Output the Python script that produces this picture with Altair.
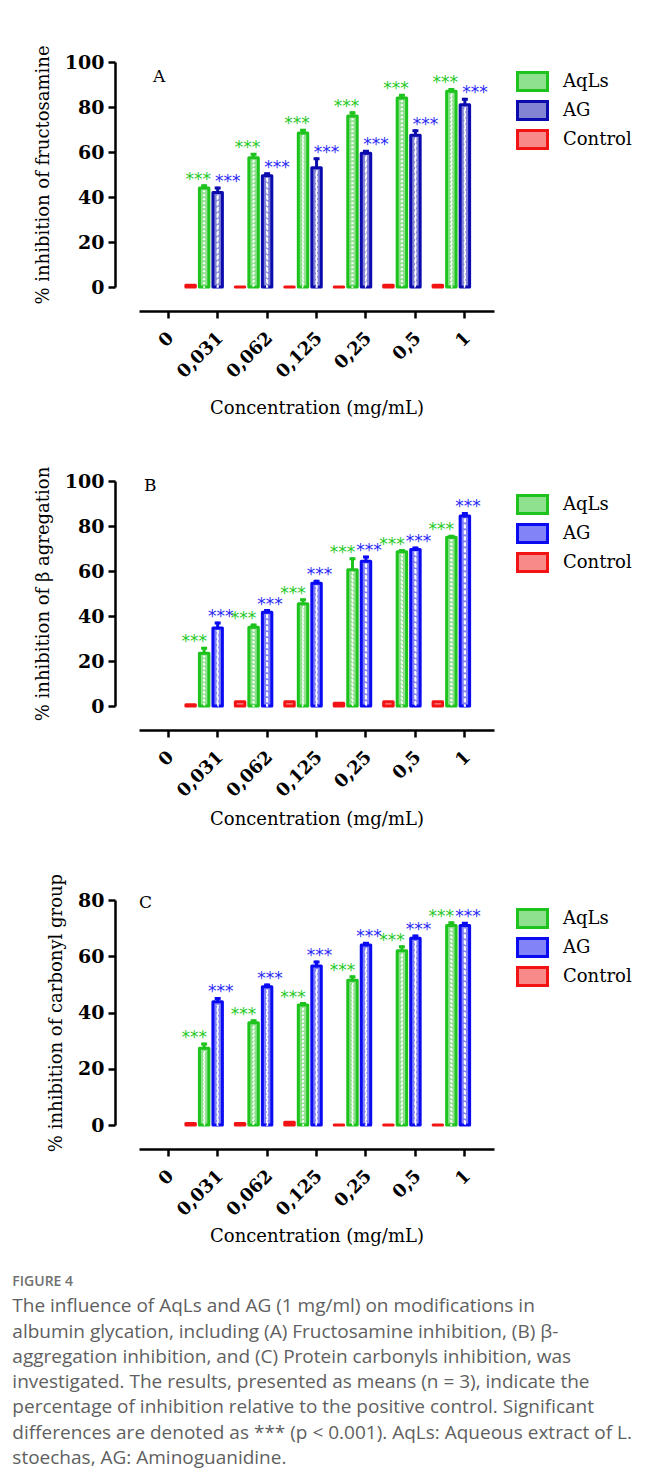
import altair as alt
import pandas as pd

conc_labels = ["0", "0,031", "0,062", "0,125", "0,25", "0,5", "1"]
bar_conc = ["0,031", "0,062", "0,125", "0,25", "0,5", "1"]
offset_order = ["Control", "AqLs", "AG"]
legend_order = ["AqLs", "AG", "Control"]

# Panel A - fructosamine
a_aqls = [44, 57.5, 68.5, 76, 84, 87]
a_aqls_err = [1, 1.5, 1.2, 1.5, 1.2, 0.8]
a_ag = [42, 49.5, 53, 59.5, 67.5, 81]
a_ag_err = [2, 0.8, 4, 0.8, 2, 2.5]
a_ctrl = [0.8, 0, 0, 0, 0.8, 0.8]

# Panel B - beta aggregation
b_aqls = [23.4, 35, 45.4, 60.6, 68.6, 75]
b_aqls_err = [2.3, 1, 1.8, 4.9, 0.5, 0.5]
b_ag = [34.7, 41.7, 54.6, 64.3, 69.6, 84.4]
b_ag_err = [2.2, 0.7, 0.9, 1.9, 0.6, 1.2]
b_ctrl = [0.6, 1.9, 1.9, 1.2, 1.9, 1.9]

# Panel C - carbonyl group
c_aqls = [27.3, 36.4, 42.7, 51.5, 62, 70.9]
c_aqls_err = [1.5, 0.7, 0.5, 1.2, 1.4, 1]
c_ag = [43.8, 49.2, 56.5, 64, 66.4, 70.9]
c_ag_err = [1.2, 0.6, 1.5, 0.6, 0.8, 0.8]
c_ctrl = [0.5, 0.5, 1, 0, 0, 0]

caption_lines = [
    "The influence of AqLs and AG (1 mg/ml) on modifications in",
    "albumin glycation, including (A) Fructosamine inhibition, (B) \u03b2-",
    "aggregation inhibition, and (C) Protein carbonyls inhibition, was",
    "investigated. The results, presented as means (n = 3), indicate the",
    "percentage of inhibition relative to the positive control. Significant",
    "differences are denoted as *** (p < 0.001). AqLs: Aqueous extract of L.",
    "stoechas, AG: Aminoguanidine.",
]

GREEN = "#1ec31e"
RED = "#f21414"
BLUE_A = "#0c0cae"
BLUE_BC = "#0b0bf2"
GREEN_TINT = "#8fe08f"
RED_TINT = "#f88a8a"
BLUE_A_TINT = "#8484d4"
BLUE_BC_TINT = "#8383f8"
STAR_GREEN = "#27c927"
STAR_BLUE = "#2b2bf5"
SERIF = "DejaVu Serif"


def long_table(aqls, aqls_err, ag, ag_err, ctrl):
    rows = []
    for i, c in enumerate(bar_conc):
        rows.append(dict(conc=c, series="Control", value=ctrl[i], err=0.0))
        rows.append(dict(conc=c, series="AqLs", value=aqls[i], err=aqls_err[i]))
        rows.append(dict(conc=c, series="AG", value=ag[i], err=ag_err[i]))
    df = pd.DataFrame(rows)
    df["top"] = df["value"] + df["err"]
    return df


def panel(letter, ytitle, ymax, yticks, table, blue, blue_tint, legend_y,
          xtitle_pad, letter_dx, letter_dy, star_dx_g, star_dx_b):
    strong = [GREEN, blue, RED]
    tints = [GREEN_TINT, blue_tint, RED_TINT]
    xenc = alt.X(
        "conc:N",
        scale=alt.Scale(domain=conc_labels, paddingInner=0, paddingOuter=0.09),
        axis=alt.Axis(title="Concentration (mg/mL)", labelAngle=-45, labelAlign="right",
                      labelBaseline="middle", labelPadding=17, labelOffset=3, offset=24,
                      titlePadding=xtitle_pad, labelFontSize=18),
    )
    xoff = alt.XOffset(
        "series:N",
        scale=alt.Scale(domain=offset_order, range=[-7, 29.5], paddingInner=0.3, paddingOuter=0),
    )

    def yenc(field):
        return alt.Y(
            f"{field}:Q",
            scale=alt.Scale(domain=[0, ymax], nice=False),
            axis=alt.Axis(title=ytitle, values=yticks, offset=24, titlePadding=12, labelPadding=4,
                          labelFontSize=19),
        )

    leg = alt.Legend(
        orient="none", legendX=380, legendY=legend_y, title=None,
        symbolType="M-1.25,-0.75H1.25V0.75H-1.25Z", symbolSize=576, symbolStrokeWidth=3,
        labelFont=SERIF, labelFontSize=18, labelColor="black", labelOffset=17,
        rowPadding=-5, padding=0,
    )
    fill = alt.Fill("series:N", scale=alt.Scale(domain=legend_order, range=tints), legend=leg)
    stroke = alt.Stroke("series:N", scale=alt.Scale(domain=legend_order, range=strong), legend=leg)

    base = alt.Chart(table)
    treated = base.transform_filter("datum.series != 'Control'")
    aqls_only = base.transform_filter("datum.series == 'AqLs'").transform_calculate(
        inner="datum.value - 1.3")
    ag_only = base.transform_filter("datum.series == 'AG'").transform_calculate(
        inner="datum.value - 1.3")

    bars = base.mark_bar(strokeWidth=3, strokeJoin="round").encode(
        x=xenc, xOffset=xoff, y=yenc("value"), fill=fill, stroke=stroke
    )
    inner_g = aqls_only.mark_bar(width=0.6, fillOpacity=0, stroke="white", strokeWidth=1.6,
                                 strokeDash=[2, 2]).encode(
        x=xenc, xOffset=xoff, y=yenc("inner")
    )
    inner_b = ag_only.mark_bar(width=0.6, fillOpacity=0, stroke="white", strokeWidth=1.6,
                               strokeDash=[4, 2]).encode(
        x=xenc, xOffset=xoff, y=yenc("inner")
    )
    stem = treated.mark_bar(width=0.5, strokeWidth=2.5, fillOpacity=0).encode(
        x=xenc, xOffset=xoff, y=yenc("value"), y2="top:Q", stroke=stroke
    )
    cap = treated.mark_bar(width=6, strokeWidth=3, fillOpacity=0).encode(
        x=xenc, xOffset=xoff, y=yenc("top"), y2="top:Q", stroke=stroke
    )
    stars_g = base.transform_filter("datum.series == 'AqLs'").mark_text(
        text="***", font="DejaVu Sans", fontSize=17, color=STAR_GREEN, dx=star_dx_g, dy=-1,
        baseline="alphabetic"
    ).encode(x=xenc, xOffset=xoff, y=yenc("top"))
    stars_b = base.transform_filter("datum.series == 'AG'").mark_text(
        text="***", font="DejaVu Sans", fontSize=17, color=STAR_BLUE, dx=star_dx_b, dy=-1,
        baseline="alphabetic"
    ).encode(x=xenc, xOffset=xoff, y=yenc("top"))

    return alt.layer(bars, inner_g, inner_b, stem, cap, stars_g, stars_b).properties(
        width=355, height=225,
        title=alt.TitleParams(letter, anchor="start", frame="group", font=SERIF, fontSize=17,
                              fontWeight="normal", color="black", dx=letter_dx, dy=letter_dy,
                              offset=0),
    )


pA = panel("A", "% inhibition of fructosamine", 100, [0, 20, 40, 60, 80, 100],
           long_table(a_aqls, a_aqls_err, a_ag, a_ag_err, a_ctrl), BLUE_A, BLUE_A_TINT, 6,
           18, 14, 41, -6, 10)
pB = panel("B", "% inhibition of \u03b2 agregation", 100, [0, 20, 40, 60, 80, 100],
           long_table(b_aqls, b_aqls_err, b_ag, b_ag_err, b_ctrl), BLUE_BC, BLUE_BC_TINT, 10,
           10, 5, 29, -10, 3)
pC = panel("C", "% inhibition of carbonyl group", 80, [0, 20, 40, 60, 80],
           long_table(c_aqls, c_aqls_err, c_ag, c_ag_err, c_ctrl), BLUE_BC, BLUE_BC_TINT, 5,
           8, 0, 39, -10, 3)

chart = alt.vconcat(pA, pB, pC, spacing=194, bounds="flush").resolve_scale(
    fill="independent", stroke="independent"
).resolve_legend(
    fill="independent", stroke="independent"
).properties(
    title=alt.TitleParams(
        "FIGURE 4", subtitle=caption_lines, orient="bottom", anchor="start",
        font="Open Sans", fontSize=14, fontWeight=600, color="#707070",
        subtitleFont="Open Sans", subtitleFontSize=19, subtitleColor="#5f5f5f",
        subtitleLineHeight=25.3, subtitlePadding=8, offset=30, dx=-22,
    ),
    padding={"left": 4, "top": 36, "right": 0, "bottom": 0},
).configure_view(stroke=None).configure_axis(
    grid=False, domainColor="black", domainWidth=2.5, tickColor="black", tickWidth=2.5,
    tickSize=7, labelFont=SERIF, labelFontWeight="bold", labelFontSize=18, labelColor="black",
    titleFont=SERIF, titleFontWeight="normal", titleFontSize=18, titleColor="black",
)

chart.save("out.html", embed_options={"renderer": "svg", "actions": False})
